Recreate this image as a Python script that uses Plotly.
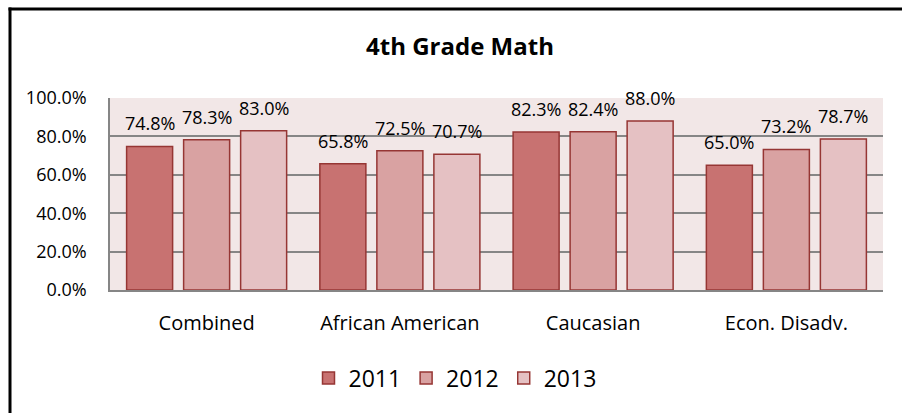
import plotly.graph_objects as go

categories = ["Combined", "African American", "Caucasian", "Econ. Disadv."]
years = ["2011", "2012", "2013"]
values_2011 = [74.8, 65.8, 82.3, 65.0]
values_2012 = [78.3, 72.5, 82.4, 73.2]
values_2013 = [83.0, 70.7, 88.0, 78.7]
y_ticks = [0, 20, 40, 60, 80, 100]

series = [values_2011, values_2012, values_2013]
colors = ["#C87271", "#D9A2A2", "#E5C1C3"]
outline = "#963634"
FONT = "Open Sans"

W, H = 902, 413
ML, MR, MT, MB = 110, 19, 98, 123
BARGAP, GROUPGAP = 0.115, 0.193

fig = go.Figure()
for name, vals, col in zip(years, series, colors):
    fig.add_trace(go.Bar(
        x=categories, y=vals, name=name,
        marker=dict(color=col, line=dict(color=outline, width=1.5)),
        hoverinfo="skip",
    ))

plot_w = W - ML - MR
cat_w = plot_w / len(categories)
slot = cat_w * (1 - BARGAP) / len(series)
annotations = []
for i, vals in enumerate(series):
    for c, v in zip(categories, vals):
        annotations.append(dict(
            x=c, y=v, xref="x", yref="y", text=f"{v:.1f}%",
            showarrow=False, xshift=(i - 1) * slot, yshift=23,
            yanchor="middle", xanchor="center",
            font=dict(family=FONT, size=18, color="#000000"),
        ))

plot_h = H - MT - MB
def px_to_paper_x(px):
    return (px - ML) / plot_w
def px_to_paper_y(py):
    return (H - MB - py) / plot_h

border = dict(color="#000000", width=3)
fig.update_layout(
    width=W, height=H,
    margin=dict(l=ML, r=MR, t=MT, b=MB, pad=0),
    paper_bgcolor="#FFFFFF",
    plot_bgcolor="#F2E7E7",
    barmode="group", bargap=BARGAP, bargroupgap=GROUPGAP,
    title=dict(text="<b>4th Grade Math</b>", x=460 / W, xanchor="center",
               y=1 - 47 / H, yanchor="middle",
               font=dict(family=FONT, size=24, color="#000000")),
    font=dict(family=FONT, color="#000000"),
    legend=dict(orientation="h", x=px_to_paper_x(455), xanchor="center",
                y=px_to_paper_y(378), yanchor="middle",
                font=dict(family=FONT, size=23, color="#000000"),
                bgcolor="rgba(0,0,0,0)"),
    annotations=annotations,
    shapes=[
        dict(type="line", xref="paper", yref="paper",
             x0=px_to_paper_x(10), x1=px_to_paper_x(10),
             y0=px_to_paper_y(H), y1=px_to_paper_y(7.5), line=border),
        dict(type="line", xref="paper", yref="paper",
             x0=px_to_paper_x(8.5), x1=px_to_paper_x(W),
             y0=px_to_paper_y(9), y1=px_to_paper_y(9), line=border),
        dict(type="rect", xref="paper", yref="paper", layer="above",
             x0=px_to_paper_x(885), x1=px_to_paper_x(W + 10),
             y0=px_to_paper_y(H + 10), y1=px_to_paper_y(12),
             fillcolor="#FFFFFF", line=dict(width=0)),
    ],
)
fig.update_xaxes(
    showgrid=False, showline=True, linecolor="#868686", linewidth=1.5,
    ticks="", tickfont=dict(family=FONT, size=20, color="#000000"),
    ticklabelstandoff=14, fixedrange=True,
)
fig.update_yaxes(
    range=[0, 100], tickvals=y_ticks,
    ticktext=[f"{t:.1f}%" for t in y_ticks],
    showgrid=True, gridcolor="#868686", gridwidth=1.5,
    showline=True, linecolor="#868686", linewidth=1.5,
    zeroline=False, ticks="", ticklabelstandoff=18,
    tickfont=dict(family=FONT, size=18, color="#000000"), fixedrange=True,
)

fig.write_html("out.html", config={"displayModeBar": False})
